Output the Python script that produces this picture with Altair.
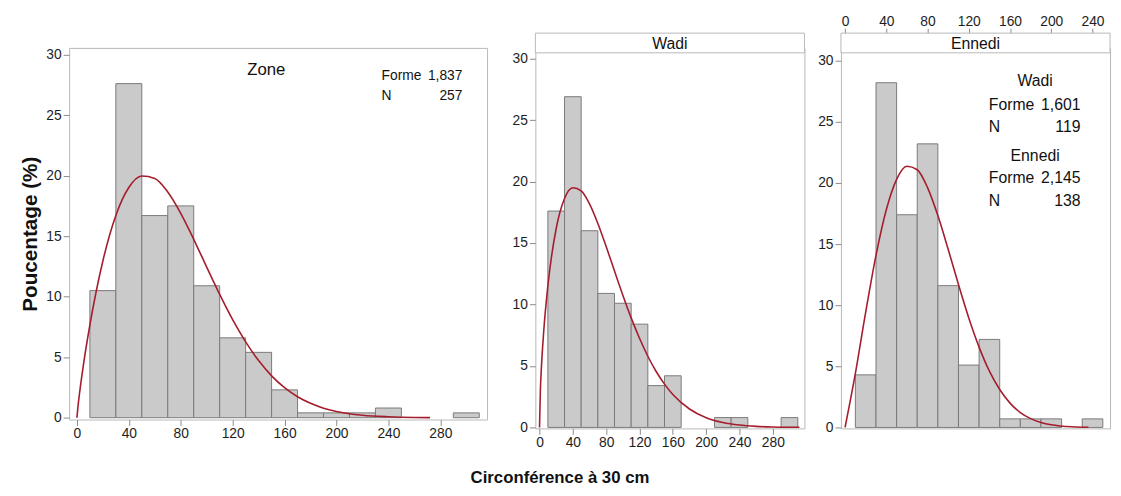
import altair as alt
import pandas as pd

# ---------------- data ----------------
bin_starts = [10, 30, 50, 70, 90, 110, 130, 150, 170, 190, 210, 230, 250, 270, 290]
bin_width = 20

zone_pct = [10.5, 27.6, 16.7, 17.5, 10.9, 6.6, 5.4, 2.3, 0.4, 0.4, 0.4, 0.8, 0, 0, 0.4]
wadi_pct = [17.6, 26.9, 16.0, 10.9, 10.1, 8.4, 3.4, 4.2, 0, 0, 0.8, 0.8, 0, 0, 0.8]
ennedi_pct = [4.3, 28.2, 17.4, 23.2, 11.6, 5.1, 7.2, 0.7, 0.7, 0.7, 0, 0.7, 0, 0, 0]

zone_curve_x = [0, 1, 2, 5, 10, 20, 30, 40, 50, 60, 70, 80, 90, 100, 110, 120, 130,
                140, 150, 160, 170, 180, 190, 200, 220, 240, 260, 272]
zone_curve_y = [0, 1.1, 2.0, 4.35, 7.66, 12.95, 16.71, 19.02, 19.97, 19.77, 18.65,
                16.89, 14.74, 12.44, 10.19, 8.10, 6.27, 4.72, 3.46, 2.48, 1.73, 1.19,
                0.79, 0.52, 0.21, 0.08, 0.02, 0.01]

wadi_curve_x = [0, 1, 2, 5, 10, 20, 30, 40, 50, 60, 70, 80, 90, 100, 110, 120, 130,
                140, 150, 160, 180, 200, 220, 240, 260, 280, 300, 312]
wadi_curve_y = [0, 2.99, 4.53, 7.78, 11.51, 16.18, 18.62, 19.49, 19.24, 18.18, 16.59,
                14.71, 12.72, 10.76, 8.91, 7.25, 5.79, 4.55, 3.52, 2.68, 1.50, 0.79,
                0.40, 0.19, 0.085, 0.036, 0.015, 0.01]

ennedi_curve_x = [0, 10, 20, 30, 40, 50, 60, 70, 80, 90, 100, 110, 120, 130, 140,
                  150, 160, 170, 180, 190, 200, 220, 236]
ennedi_curve_y = [0, 4.42, 9.43, 14.08, 17.81, 20.30, 21.37, 21.08, 19.62, 17.33,
                  14.57, 11.69, 8.96, 6.57, 4.60, 3.10, 1.99, 1.22, 0.72, 0.41, 0.22,
                  0.05, 0.01]

x_ticks_wide = [0, 40, 80, 120, 160, 200, 240, 280]
x_ticks_ennedi = [0, 40, 80, 120, 160, 200, 240]
y_ticks = [0, 5, 10, 15, 20, 25, 30]

zone_title = "Zone"
zone_legend_labels = ["Forme", "N"]
zone_legend_values = ["1,837", "257"]
strip_names = ["Wadi", "Ennedi"]
right_legend_groups = ["Wadi", "Ennedi"]
right_legend_labels = ["Forme", "N"]
right_legend_values = [["1,601", "119"], ["2,145", "138"]]
y_title = "Poucentage (%)"
x_title = "Circonférence à 30 cm"

# ---------------- styles ----------------
FONT = "Liberation Sans"
FRAME = "#b8b8b8"
TICK = "#8a8a8a"
LABEL = "#1e1e1e"
BAR_FILL = "#cacaca"
BAR_STROKE = "#7a7a7a"
RED = "#a51d2d"
TICK_FS = 14


def hist_df(pct):
    d = pd.DataFrame({"start": bin_starts, "pct": pct})
    d["end"] = d["start"] + bin_width
    d["base"] = 0.0
    return d[d["pct"] > 0]


def x_axis(values, orient, offset=0, tick=6, pad=1):
    return alt.Axis(values=values, orient=orient, title=None, grid=False, domain=False,
                    tickSize=tick, tickColor=TICK, labelFont=FONT, labelFontSize=TICK_FS,
                    labelColor=LABEL, labelPadding=pad, labelFlush=False, offset=offset)


def y_axis(title=None):
    kw = dict(values=y_ticks, grid=False, domain=False, tickSize=6, tickColor=TICK,
              labelFont=FONT, labelFontSize=TICK_FS, labelColor=LABEL, labelPadding=2,
              labelFlush=False)
    if title:
        kw.update(title=title, titleFont=FONT, titleFontSize=21,
                  titleFontWeight="bold", titleColor="#111111", titlePadding=6)
    else:
        kw.update(title=None)
    return alt.Axis(**kw)


def text(t, x, y, size, align="left"):
    return alt.Chart(pd.DataFrame({"t": [t]})).mark_text(
        align=align, baseline="alphabetic", font=FONT, fontSize=size, color="#111111"
    ).encode(text="t:N", x=alt.value(x), y=alt.value(y))


def panel(pct, cx, cy, xdom, ydom, xax, yax):
    xs = alt.Scale(domain=xdom, nice=False, zero=False)
    ys = alt.Scale(domain=ydom, nice=False, zero=False)
    bars = alt.Chart(hist_df(pct)).mark_rect(
        fill=BAR_FILL, stroke=BAR_STROKE, strokeWidth=1
    ).encode(
        x=alt.X("start:Q", scale=xs, axis=xax),
        x2="end:Q",
        y=alt.Y("pct:Q", scale=ys, axis=yax),
        y2="base:Q",
    )
    curve = alt.Chart(pd.DataFrame({"x": cx, "y": cy})).mark_line(
        color=RED, strokeWidth=1.6, interpolate="monotone"
    ).encode(
        x=alt.X("x:Q", scale=xs, axis=xax),
        y=alt.Y("y:Q", scale=ys, axis=yax),
    )
    return bars, curve


def strip(name, w):
    # header box: covers the 5px band above the data area and 15px above the view
    box = alt.Chart(pd.DataFrame({"t": [name]})).mark_rect(
        fill="white", stroke=FRAME, strokeWidth=1
    ).encode(x=alt.value(0), x2=alt.value(w), y=alt.value(-15), y2=alt.value(5))
    lab = text(name, w / 2, 1, 16, align="center")
    return [box, lab]


# ---------------- left panel (Zone) ----------------
LW, LH = 424, 377
lb, lc = panel(zone_pct, zone_curve_x, zone_curve_y, [-6, 316], [-0.15, 30.55],
               x_axis(x_ticks_wide, "bottom"), y_axis(y_title))
left_texts = [
    text(zone_title, 200, 27, 17, align="center"),
    text(zone_legend_labels[0], 317, 33, 14),
    text(zone_legend_values[0], 399, 33, 14, align="right"),
    text(zone_legend_labels[1], 317, 53, 14),
    text(zone_legend_values[1], 399, 53, 14, align="right"),
]
left = alt.layer(lb, lc, *left_texts).properties(width=LW, height=LH)

# ---------------- middle panel (Wadi) ----------------
PW, PH = 273, 386
mb, mc = panel(wadi_pct, wadi_curve_x, wadi_curve_y, [-5, 318], [-0.08, 30.87],
               x_axis(x_ticks_wide, "bottom"), y_axis())
middle = alt.layer(mb, mc, *strip(strip_names[0], PW)).properties(width=PW, height=PH)

# ---------------- right panel (Ennedi) ----------------
top_ax = x_axis(x_ticks_ennedi, "top", offset=15, tick=5, pad=0)
rb, rc = panel(ennedi_pct, ennedi_curve_x, ennedi_curve_y, [-4, 257], [-0.08, 31.05],
               top_ax, y_axis())
right_texts = [
    text(right_legend_groups[0], 197, 39, 16, align="center"),
    text(right_legend_labels[0], 150, 63, 16),
    text(right_legend_values[0][0], 243, 63, 16, align="right"),
    text(right_legend_labels[1], 150, 85, 16),
    text(right_legend_values[0][1], 243, 85, 16, align="right"),
    text(right_legend_groups[1], 197, 115, 16, align="center"),
    text(right_legend_labels[0], 150, 137, 16),
    text(right_legend_values[1][0], 243, 137, 16, align="right"),
    text(right_legend_labels[1], 150, 160, 16),
    text(right_legend_values[1][1], 243, 160, 16, align="right"),
]
right = alt.layer(rb, rc, *strip(strip_names[1], PW), *right_texts).properties(
    width=PW, height=PH)

chart = alt.hconcat(
    left, alt.hconcat(middle, right, spacing=11), spacing=23
).properties(
    padding={"left": 10, "top": 2, "right": 2, "bottom": 0},
    title=alt.TitleParams(x_title, orient="bottom", anchor="middle", font=FONT,
                          fontSize=17, fontWeight="bold", color="#111111",
                          offset=21, dx=-5),
).configure_view(stroke=FRAME, strokeWidth=1)

chart.save("out.html", embed_options={"renderer": "svg", "actions": False})
